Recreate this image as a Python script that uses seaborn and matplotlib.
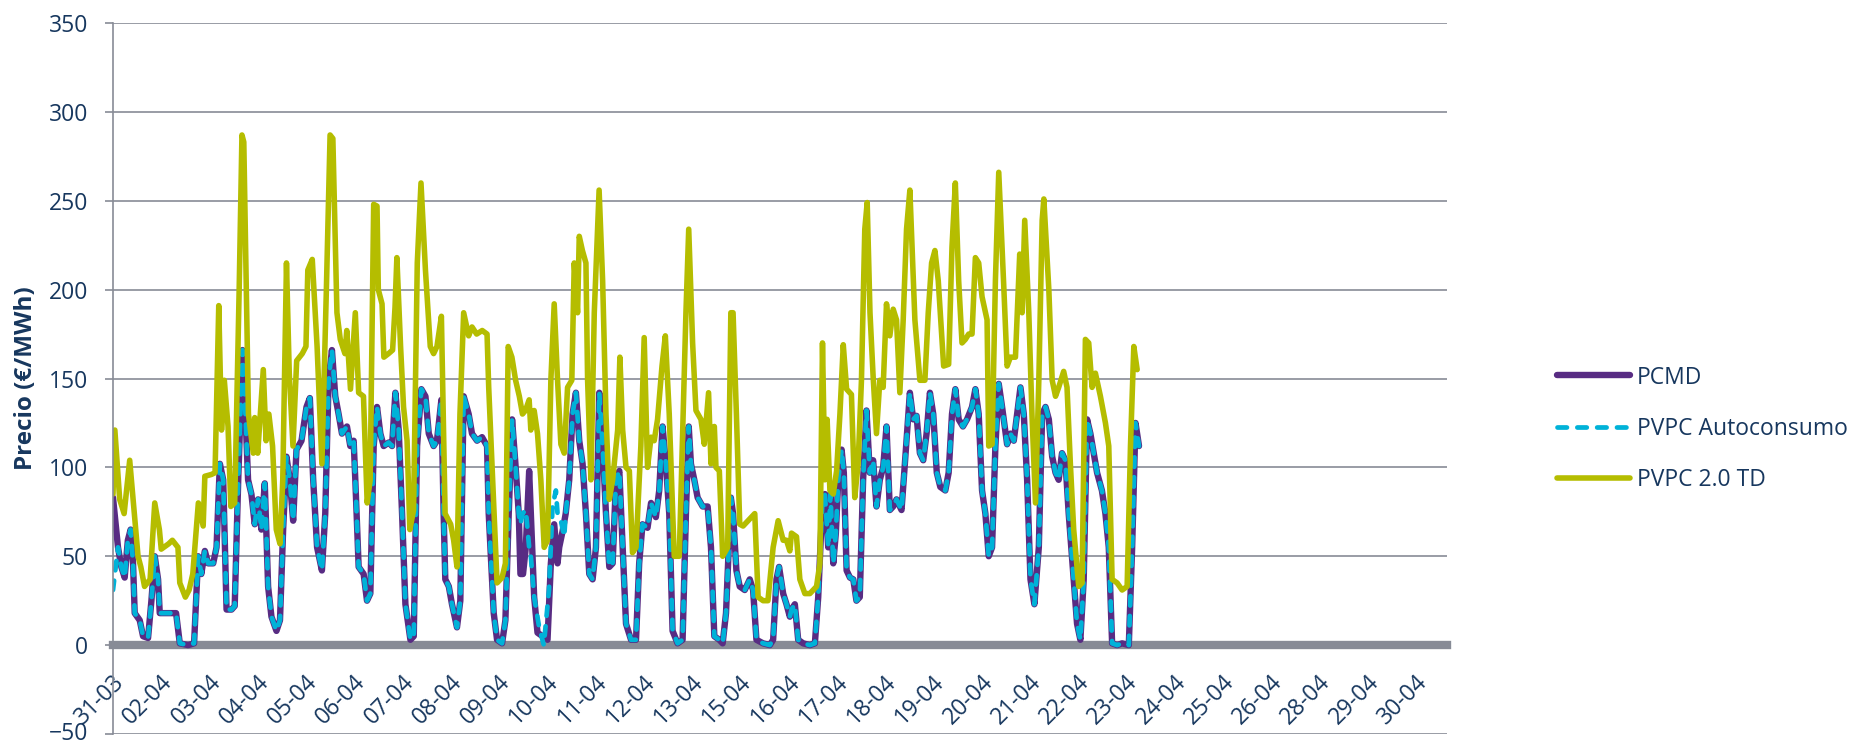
import numpy as np
import matplotlib
matplotlib.use("Agg")
import matplotlib.pyplot as plt
import matplotlib.transforms as mtransforms
import seaborn as sns

# hours counted from 31-03 22:00, one category per hour
tick_labels = ["31-03", "02-04", "03-04", "04-04", "05-04", "06-04", "07-04",
               "08-04", "09-04", "10-04", "11-04", "12-04", "13-04", "15-04",
               "16-04", "17-04", "18-04", "19-04", "20-04", "21-04", "22-04",
               "23-04", "24-04", "25-04", "26-04", "28-04", "29-04", "30-04"]
n_hours = 720
tick_step = 26

# PVPC 2.0 TD
td_h = [0, 1, 3.6, 6, 9, 13.5, 15, 17, 20, 22.5, 25, 26, 30, 32, 35, 36, 39, 41, 43, 46,
        48.6, 49.5, 53, 55, 57, 58.5, 60, 62, 63.5, 65.6, 68, 69.5, 70.5, 73, 75.6, 76.4,
        78, 81, 82.5, 84, 86, 88, 90, 91.5, 93.5, 95, 97, 99, 102, 104, 105, 107.4, 110,
        112.6, 115, 117, 118.5, 120.7, 122.5, 125, 126, 128, 130.6, 132.4, 135, 137,
        138.6, 140.5, 142.3, 143, 145, 146, 148.5, 150.7, 152, 153, 155, 156.6, 158.5,
        160, 162, 164, 166, 168.4, 171, 172.8, 174.6, 177, 179, 182, 183.6, 185.4, 187,
        189, 191.7, 193.5, 196, 199, 201.6, 202.5, 207, 209.7, 211.5, 213, 215, 217, 219,
        220.7, 222.3, 224.3, 225.2, 227, 228.8, 230.6, 232.4, 234.2, 236, 237.8, 239.6,
        241.4, 243.2, 245, 247.3, 248.6, 250.4, 251.3, 253, 254.9, 255.8, 257.6, 259.4,
        262, 263.9, 265.7, 267.5, 269.3, 272, 273.2, 274.7, 276.5, 278.3, 280, 281.9,
        284.5, 286.3, 288.1, 290, 291.7, 293.5, 295.9, 297.7, 299.8, 302.5, 305.2, 308.8,
        310.3, 312.4, 314.2, 316.9, 318.7, 321, 322.3, 324.1, 325, 326.8, 328.6, 331.3,
        333, 334.2, 336, 337.8, 339.6, 342.3, 345.9, 347.7, 350.4, 353, 355.8, 358.5,
        361.2, 363, 364.8, 365.7, 368.4, 370.2, 372.9, 375.6, 379.2, 381, 382.4, 383.7,
        384.9, 386.4, 388.2, 390, 391.8, 393.6, 395.4, 398, 399.8, 401.6, 403.4, 405.2,
        406.5, 408, 409.7, 411.5, 413.3, 415.1, 416.9, 418.7, 420.5, 422.3, 424.1, 425.9,
        427.7, 429.5, 432.2, 434.9, 437.6, 439.4, 441.2, 443, 444.8, 447.7, 450.4, 452.2,
        454, 455.8, 457.6, 459.4, 461.2, 463, 464.8, 466.6, 468.4, 471.1, 472, 473.8,
        475.6, 477.4, 480.1, 481.9, 483.7, 486.4, 488.7, 490, 491.4, 493.6, 495.3, 497.2,
        499, 500.8, 501.7, 504.4, 506.2, 508, 509.7, 512.4, 514.2, 516, 517.8, 520.5,
        522.3, 524.1, 525.9, 527.7, 529.5, 532.2, 534.9, 536.7, 538.5, 541.2, 543.9,
        546.6, 548.4, 550.2, 552]
td_v = [85, 121, 82, 74, 104, 50, 44, 33, 37, 80, 65, 54, 57, 59, 55, 35, 27, 31, 40, 80,
        67, 95, 96, 97, 191, 121, 149, 123, 78, 80, 200, 287, 283, 130, 108, 128,
        108, 155, 115, 130, 112, 65, 57, 93, 215, 153, 112, 160, 164, 168, 211, 217, 168,
        102, 200, 287, 285, 187, 172, 164, 177, 144, 187, 142, 140, 80,
        93, 248, 247, 200, 192, 162, 164, 166, 190, 218, 168, 134, 115,
        65, 76, 215, 260, 211, 168, 164, 168, 185, 74, 68, 59, 44, 130,
        187, 174, 179, 175, 177, 175, 145, 35, 38, 46, 168, 162, 149, 140,
        130, 132, 138, 121, 132, 119, 93, 55, 59, 149, 192, 149,
        113, 108, 145, 149, 215, 187, 230, 222, 215, 149, 93, 187,
        256, 205, 130, 82, 93, 121, 162, 121, 100, 98, 52, 55,
        112, 173, 100, 117, 115, 127, 157, 174, 130, 50, 50, 187,
        234, 170, 132, 127, 113, 142, 102, 123, 100, 98, 50, 55,
        187, 187, 130, 68, 67, 70, 74, 27, 25, 25, 55, 70,
        59, 59, 53, 63, 61, 37, 29, 29, 33, 46, 170, 93,
        127, 87, 85, 98, 130, 169, 144, 141, 83, 102, 149, 234,
        249, 187, 151, 119, 149, 145, 192, 174, 189, 183, 142, 183,
        234, 256, 183, 149, 149, 187, 215, 222, 205, 157, 158, 224,
        260, 205, 170, 172, 175, 175, 218, 215, 196, 183, 112, 113,
        205, 266, 202, 157, 162, 162, 220, 187, 239, 187, 130, 80,
        149, 239, 251, 200, 149, 140, 145, 154, 145, 102, 65, 33,
        35, 172, 170, 145, 153, 140, 125, 112, 37, 35, 31,
        33, 112, 168, 155]

# PCMD
pcmd_h = [0, 2.7, 4.5, 6.3, 8, 9.5, 10.8, 11.7, 14.4, 16.2, 18.9, 20.7, 22.5, 24.3, 25.2,
          28, 31, 34, 36, 40.5, 43.7, 45.9, 47.6, 49.5, 51.3, 54, 55.8, 57.6, 59.4, 61.2,
          63.9, 65.6, 67.5, 69.8, 71, 72.8, 74.6, 76.4, 78.2, 80, 81.8, 83.6, 85.4, 88.1,
          90, 91.7, 93.5, 95.3, 97.1, 98.9, 101.6, 104.3, 106.1, 107.9, 110, 112.6, 114.4,
          116.2, 118, 119.8, 121.6, 123.4, 126.1, 127.9, 129.7, 130.6, 132.4, 135.1, 136.9,
          138.7, 140.5, 142.3, 144.1, 145.9, 148.6, 150.4, 152.2, 154, 155.8, 157.6, 160.3,
          162.1, 163.9, 166.2, 168.4, 170.2, 172.8, 174.6, 177, 178.2, 179.1, 181, 182.7,
          185.4, 187.2, 189, 191.7, 193.5, 196.2, 198.9, 201.6, 202.5, 205.2, 207, 209.7,
          211.5, 213.3, 215.1, 216.9, 218.7, 219.6, 221, 222.5, 224.3, 225.2, 227, 228.8,
          231.5, 234.2, 236, 237.8, 239.6, 240.5, 242.3, 244, 245.9, 247.7, 249.5, 251.3,
          253.1, 254.9, 256.7, 258.5, 260.3, 262.1, 263.9, 265.7, 267.5, 269.3, 271.1,
          272.9, 274.7, 276.5, 279.2, 281.9, 283.6, 285.4, 288.1, 290, 292.6, 294.4, 296.2,
          298, 299.8, 301.6, 304.3, 307, 308.8, 310.3, 311.5, 313.3, 315.1, 317.8, 320.5,
          322.3, 324.1, 326.8, 328.6, 330.4, 333, 334.2, 336, 337.8, 340.5, 343.2, 345,
          346.8, 350.4, 354, 355.8, 357.6, 359, 361.2, 363, 364.8, 365.7, 367.5, 369.3,
          372, 375.6, 378.3, 380.1, 382.4, 383.7, 385.5, 386.7, 388.2, 389.6, 390.9, 392.7,
          393.9, 395.4, 397.2, 399, 400.7, 402.5, 404.3, 406.1, 407.9, 409.7, 411.5, 413.3,
          415.1, 416.9, 418.7, 420.5, 422.3, 425, 426.8, 429.5, 431.3, 433.1, 434.9, 436.7,
          438.5, 440.3, 442.1, 444, 445.9, 448.6, 450.4, 452.2, 454, 455.8, 458.1, 460.3,
          463, 464.8, 466.6, 468.4, 470.2, 472, 473.8, 475.6, 477.4, 479.2, 481.9, 483.7,
          485.5, 487.3, 489.1, 490.9, 492.7, 494.5, 496.6, 499, 500.8, 502.6, 504.4, 506.2,
          508, 509.7, 511.5, 513.3, 515.1, 517.8, 519.6, 521.4, 523.2, 525, 526.8, 528.6,
          530.4, 533, 534.9, 536.7, 538.5, 541.2, 543.9, 547.5, 549.3, 551.1, 553]
pcmd_v = [83, 55, 44, 38, 59, 65, 46, 18, 14, 5, 4, 25, 50, 37, 18,
          18, 18, 18, 1, 0, 1, 50, 40, 53, 46, 46, 55, 102, 93, 20,
          20, 22, 93, 166, 140, 93, 85, 68, 82, 65, 91, 33, 16, 8,
          14, 65, 106, 93, 70, 110, 115, 134, 139, 93, 55, 42, 74,
          149, 166, 140, 130, 119, 123, 112, 115, 93, 44, 40, 25,
          29, 112, 134, 119, 112, 114, 112, 142, 121, 74, 23, 3,
          5, 112, 144, 140, 119, 112, 115, 138, 74, 37, 33, 23,
          10, 25, 140, 130, 119, 115, 117, 112, 74, 18, 3, 1,
          14, 74, 127, 102, 74, 40, 40, 55, 98, 74, 27, 7,
          5, 3, 46, 68, 46, 55, 64, 74, 93, 130, 142, 115,
          102, 74, 40, 37, 55, 142, 112, 74, 44, 46, 93,
          98, 55, 12, 3, 3, 46, 68, 66, 80, 72, 87, 123,
          102, 74, 8, 1, 3, 74, 123, 102, 93, 83, 78, 78,
          55, 5, 3, 1, 18, 83, 74, 42, 33, 31, 37, 31,
          3, 1, 0, 3, 37, 44, 29, 23, 16, 20, 23, 3,
          1, 0, 1, 27, 82, 85, 55, 85, 46, 63, 93, 110,
          97, 42, 38, 37, 25, 27, 93, 132, 97, 104, 78, 93,
          100, 123, 76, 78, 82, 76, 102, 142, 127, 129, 108, 104,
          119, 142, 130, 97, 89, 87, 97, 130, 144, 127, 123, 127,
          134, 144, 130, 87, 74, 50, 55, 112, 147, 134, 113, 119,
          115, 130, 145, 130, 93, 37, 23, 55, 130, 134, 127, 106,
          97, 93, 108, 104, 74, 37, 12, 3, 37, 127, 119, 108,
          97, 87, 74, 55, 1, 0, 1, 0, 55, 125, 112]

# PVPC Autoconsumo: same as PCMD except at the start and around 09-04 / 10-04
auto_start_v = 31
auto_mid_h = [215.1, 216.9, 218.7, 219.6, 220.7, 222.5, 224.3, 225.2, 227, 229.7, 232.2,
              235, 236.9, 238.7, 239.6, 241.4, 243.2]
auto_mid_v = [127, 102, 74, 68, 74, 76, 55, 50, 27, 10, 0, 31, 78, 87, 74, 70, 61]

pcmd_h = np.array(pcmd_h)
pcmd_v = np.array(pcmd_v, dtype=float)
before = pcmd_h < auto_mid_h[0]
after = pcmd_h > auto_mid_h[-1]
auto_h = np.concatenate([pcmd_h[before], auto_mid_h, pcmd_h[after]])
auto_v = np.concatenate([pcmd_v[before], auto_mid_v, pcmd_v[after]])
auto_v[0] = auto_start_v

navy = "#17375E"
grey = "#878B96"

sns.set_theme(style="white")
plt.rcParams["font.family"] = ["Open Sans", "DejaVu Sans"]

fig = plt.figure(figsize=(18.54, 7.43), dpi=100)
ax = fig.add_axes([113 / 1854, 9 / 743, 1334 / 1854, 711 / 743])

sns.lineplot(x=pcmd_h, y=pcmd_v, ax=ax, color="#582C83", lw=4.6, label="PCMD",
             solid_capstyle="round", solid_joinstyle="round")
sns.lineplot(x=auto_h, y=auto_v, ax=ax, color="#00B2D8", lw=3.4, label="PVPC Autoconsumo",
             dash_capstyle="round", dash_joinstyle="round")
ax.lines[-1].set_dashes((2.0, 2.2))
sns.lineplot(x=td_h, y=td_v, ax=ax, color="#B5BD00", lw=4.0, label="PVPC 2.0 TD",
             solid_capstyle="round", solid_joinstyle="round")

ax.set_xlim(0, n_hours - 1)
ax.set_ylim(-50, 350)
ax.set_yticks(np.arange(-50, 351, 50))
ax.yaxis.grid(True, color=grey, lw=1.2)
ax.xaxis.grid(False)

for s in ["top", "right"]:
    ax.spines[s].set_visible(False)
ax.spines["left"].set_color(grey)
ax.spines["left"].set_linewidth(1.2)
ax.spines["bottom"].set_position(("data", 0))
ax.spines["bottom"].set_color(grey)
ax.spines["bottom"].set_linewidth(6)
ax.spines["bottom"].set_zorder(1.5)

ax.set_xticks(np.arange(len(tick_labels)) * tick_step)
ax.set_xticklabels(tick_labels, rotation=45, ha="right", va="center", rotation_mode="anchor")
ax.tick_params(axis="x", length=0, pad=24, labelsize=16.5, labelcolor=navy)
ax.tick_params(axis="y", length=6, width=1.2, color=grey, pad=12, labelsize=16.5,
               labelcolor=navy, left=True)
offset = mtransforms.ScaledTranslation(8 / 100, 0, fig.dpi_scale_trans)
for lab in ax.get_xticklabels():
    lab.set_transform(lab.get_transform() + offset)
# lift the lowest y label a little so it stays inside the canvas
low = ax.get_yticklabels()[0]
low.set_transform(low.get_transform() + mtransforms.ScaledTranslation(0, 3 / 100, fig.dpi_scale_trans))

ax.set_xlabel("")
ax.set_ylabel("Precio (€/MWh)", fontsize=17.5, fontweight="bold", color=navy)
ax.yaxis.set_label_coords(-0.056, 0.5)

ax.legend(loc="center left", bbox_to_anchor=(1557 / 1854, 1 - 429 / 743),
          bbox_transform=fig.transFigure, frameon=False, fontsize=16.5,
          handlelength=3.2, handletextpad=0.3, labelspacing=1.2,
          borderpad=0, borderaxespad=0, labelcolor=navy)

fig.savefig("out.png", dpi=100)
